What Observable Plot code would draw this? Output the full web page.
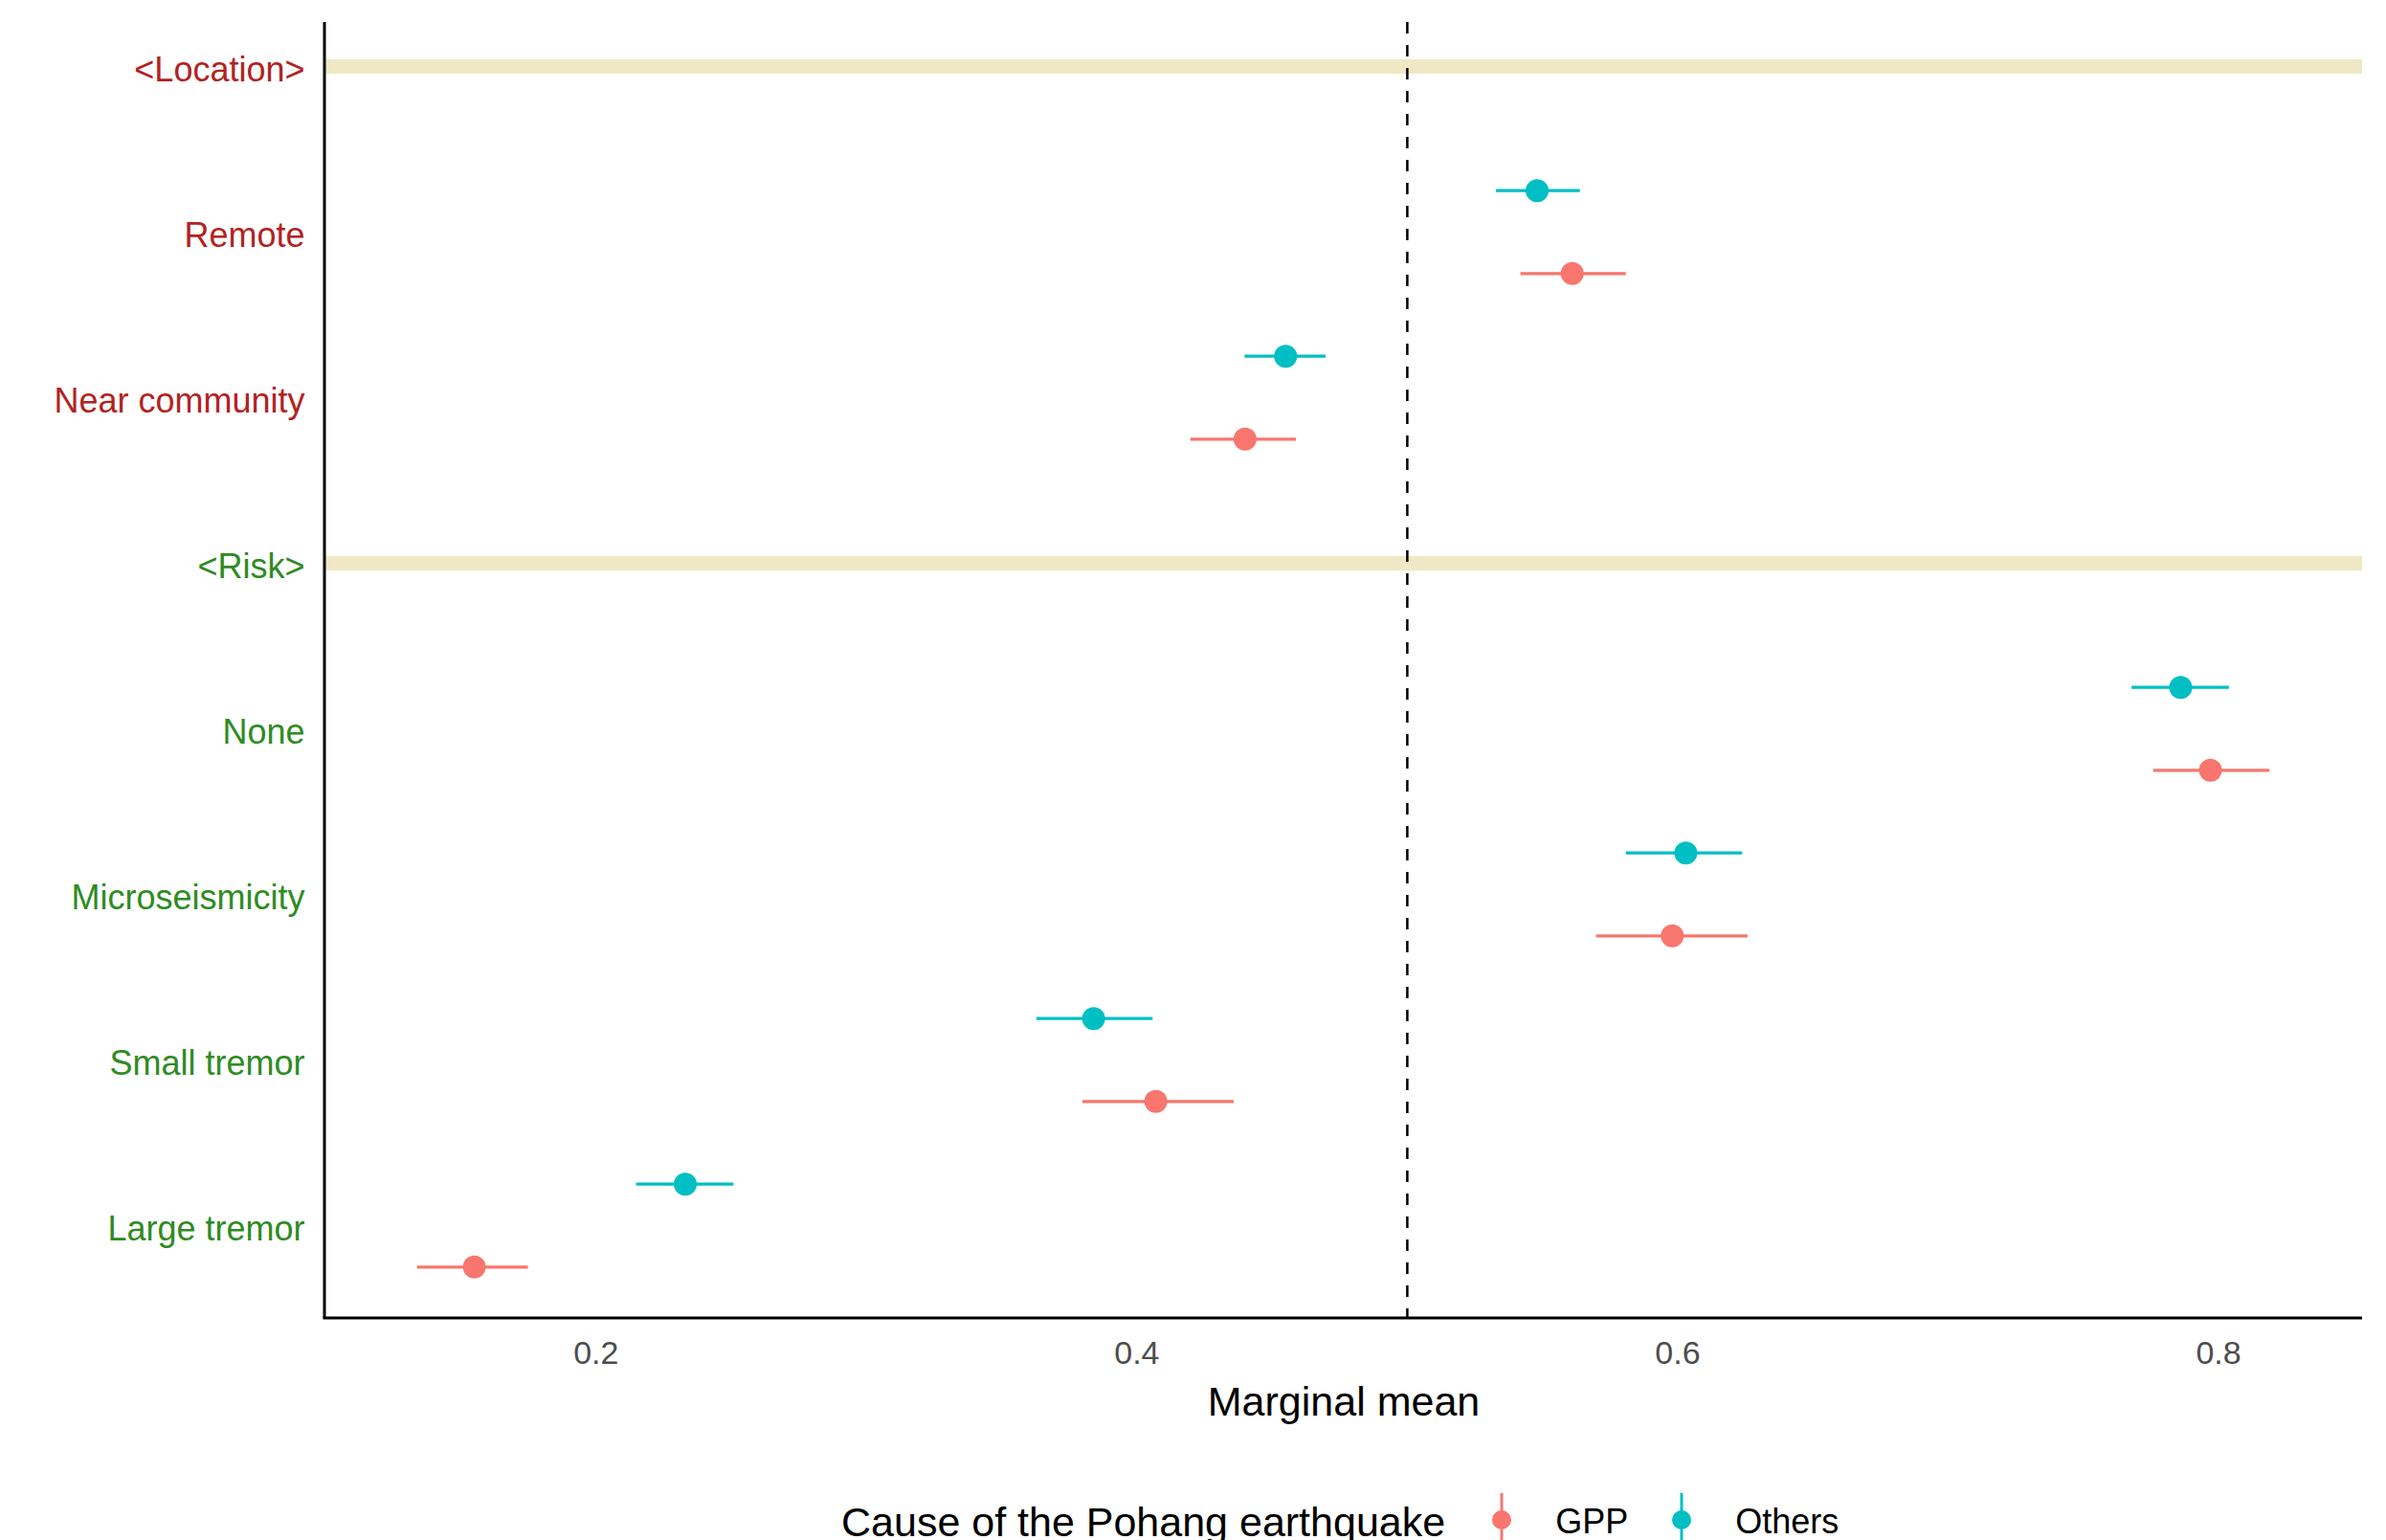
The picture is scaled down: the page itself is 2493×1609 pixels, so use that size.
<!DOCTYPE html>
<html>
<head>
<meta charset="utf-8">
<script src="https://cdn.jsdelivr.net/npm/d3@7"></script>
<script src="https://cdn.jsdelivr.net/npm/@observablehq/plot@0.6"></script>
<style>
  html, body { margin: 0; padding: 0; background: #ffffff; }
  body { font-family: "Liberation Sans", Arial, sans-serif; width: 2493px; height: 1609px; overflow: hidden; position: relative; }
  #legend { position: absolute; left: 879px; top: 1560px; display: flex; align-items: center; white-space: nowrap; }
  #legend .title { font-size: 43px; color: #000; margin-right: 39px; }
  #legend .lab { font-size: 36px; color: #000; margin-left: 36px; margin-right: 36px; }
  #legend svg { display: block; }
</style>
</head>
<body>
<div id="chart"></div>
<div id="legend"></div>
<script>
// ---- data ----
const categories = ["<Location>", "Remote", "Near community", "<Risk>", "None", "Microseismicity", "Small tremor", "Large tremor"];
const locationLabels = ["<Location>", "Remote", "Near community"];
const riskLabels = ["<Risk>", "None", "Microseismicity", "Small tremor", "Large tremor"];
const headerRows = ["<Location>", "<Risk>"];
const levels = ["Remote", "Near community", "None", "Microseismicity", "Small tremor", "Large tremor"];

const groups = ["GPP", "Others"];
const groupColors = ["#F8766D", "#00BFC4"];

const gppEstimate = [0.561, 0.440, 0.797, 0.598, 0.407, 0.155];
const gppLower    = [0.542, 0.420, 0.776, 0.570, 0.380, 0.134];
const gppUpper    = [0.581, 0.459, 0.819, 0.626, 0.436, 0.175];

const othersEstimate = [0.548, 0.455, 0.786, 0.603, 0.384, 0.233];
const othersLower    = [0.533, 0.440, 0.768, 0.581, 0.363, 0.215];
const othersUpper    = [0.564, 0.470, 0.804, 0.624, 0.406, 0.251];

const xTicks = [0.2, 0.4, 0.6, 0.8];
const referenceLine = [0.5];

// ---- build tables ----
const gppRows = levels.map((lev, i) => ({level: lev, group: "GPP", est: gppEstimate[i], lo: gppLower[i], hi: gppUpper[i]}));
const othersRows = levels.map((lev, i) => ({level: lev, group: "Others", est: othersEstimate[i], lo: othersLower[i], hi: othersUpper[i]}));

const allLo = d3.min([...gppLower, ...othersLower]);
const allHi = d3.max([...gppUpper, ...othersUpper]);
const pad = (allHi - allLo) * 0.05;

const W = 2493, H = 1500;
const mLeft = 339, mRight = 25, mTop = 23, mBottom = 123;
const yTop = 68, yBottom = 1280;
const dodge = (yBottom - yTop) / (categories.length - 1) * 0.25;

const axisLines = (index, scales, values, dims) => {
  const g = d3.create("svg:g");
  const x0 = dims.marginLeft, x1 = dims.width - dims.marginRight;
  const y0 = dims.marginTop, y1 = dims.height - dims.marginBottom;
  g.append("line").attr("x1", x0).attr("x2", x0).attr("y1", y0).attr("y2", y1)
    .attr("stroke", "#000").attr("stroke-width", 3);
  g.append("line").attr("x1", x0 - 1.5).attr("x2", x1).attr("y1", y1).attr("y2", y1)
    .attr("stroke", "#000").attr("stroke-width", 3);
  return g.node();
};

const chart = Plot.plot({
  width: W,
  height: H,
  marginLeft: mLeft,
  marginRight: mRight,
  marginTop: mTop,
  marginBottom: mBottom,
  style: {fontFamily: '"Liberation Sans", Arial, sans-serif', background: "#ffffff", color: "#000"},
  x: {domain: [allLo - pad, allHi + pad], axis: null},
  y: {type: "point", domain: categories, range: [yTop, yBottom], padding: 0, axis: null},
  marks: [
    Plot.ruleY(headerRows, {stroke: "#EEE8C4", strokeWidth: 15}),
    Plot.ruleX(referenceLine, {stroke: "#000", strokeWidth: 2.5, strokeDasharray: "12,12"}),
    Plot.ruleY(othersRows, {y: "level", x1: "lo", x2: "hi", dy: -dodge, stroke: groupColors[1], strokeWidth: 3.3}),
    Plot.dot(othersRows, {y: "level", x: "est", dy: -dodge, r: 12, fill: groupColors[1], stroke: "none"}),
    Plot.ruleY(gppRows, {y: "level", x1: "lo", x2: "hi", dy: dodge, stroke: groupColors[0], strokeWidth: 3.3}),
    Plot.dot(gppRows, {y: "level", x: "est", dy: dodge, r: 12, fill: groupColors[0], stroke: "none"}),
    Plot.axisX({ticks: xTicks, tickSize: 0, tickPadding: 23, fontSize: 34, fill: "#4D4D4D", tickFormat: d3.format(".1f"), label: null}),
    Plot.text(["Marginal mean"], {frameAnchor: "bottom", dy: 101, fontSize: 43, fill: "#000"}),
    Plot.text(locationLabels, {y: d => d, text: d => d, frameAnchor: "left", textAnchor: "end", dx: -21, dy: 4, fontSize: 36, fill: "#B22222"}),
    Plot.text(riskLabels, {y: d => d, text: d => d, frameAnchor: "left", textAnchor: "end", dx: -21, dy: 4, fontSize: 36, fill: "#2E8B22"}),
    axisLines
  ]
});
document.getElementById("chart").appendChild(chart);

// ---- legend ----
const legend = d3.select("#legend");
legend.append("span").attr("class", "title").text("Cause of the Pohang earthquake");
groups.forEach((g, i) => {
  const svg = legend.append("svg").attr("width", 40).attr("height", 60);
  svg.append("line").attr("x1", 20).attr("x2", 20).attr("y1", 0).attr("y2", 60)
    .attr("stroke", groupColors[i]).attr("stroke-width", 3);
  svg.append("circle").attr("cx", 20).attr("cy", 28).attr("r", 10).attr("fill", groupColors[i]);
  legend.append("span").attr("class", "lab").text(g);
});
</script>
</body>
</html>
